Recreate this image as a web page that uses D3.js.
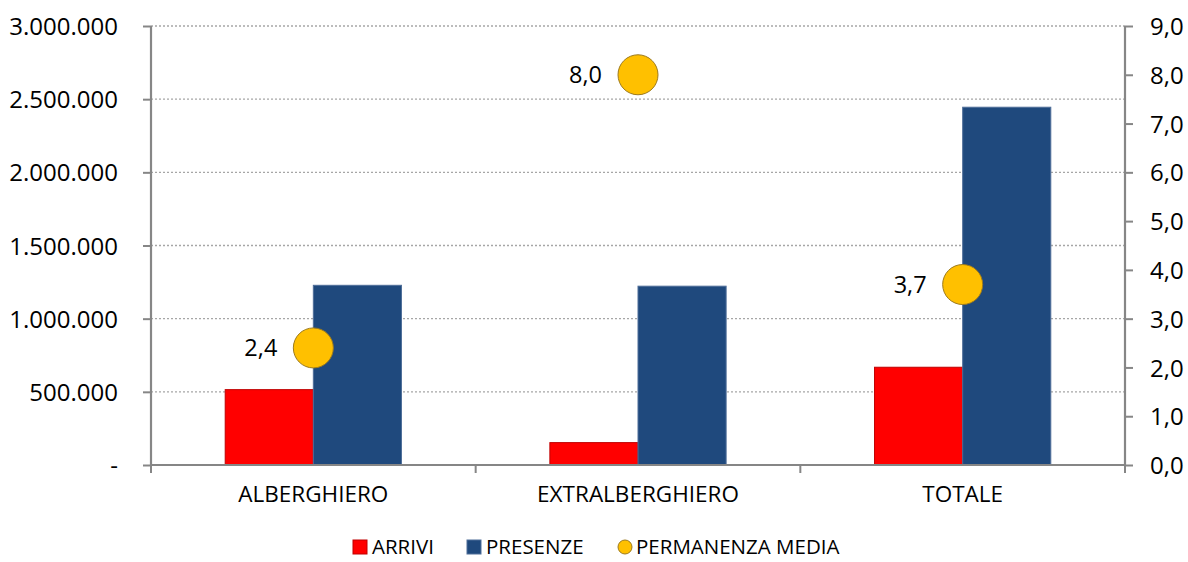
<!DOCTYPE html>
<html>
<head>
<meta charset="utf-8">
<script src="https://cdn.jsdelivr.net/npm/d3@7"></script>
<style>
  html, body { margin: 0; padding: 0; background: #fff; }
  svg text { font-family: "Open Sans", "DejaVu Sans", sans-serif; fill: #000; }
</style>
</head>
<body>
<svg id="chart" width="1188" height="562"></svg>
<script>
const categories = ["ALBERGHIERO", "EXTRALBERGHIERO", "TOTALE"];
const arrivi = [515000, 153000, 668000];
const presenze = [1228000, 1222000, 2445000];
const permanenza = [2.4, 8.0, 3.7];
const leftTicks = [0, 500000, 1000000, 1500000, 2000000, 2500000, 3000000];
const rightTicks = [0, 1, 2, 3, 4, 5, 6, 7, 8, 9];
const seriesNames = ["ARRIVI", "PRESENZE", "PERMANENZA MEDIA"];

const svg = d3.select("#chart");
const m = { left: 151, right: 1125, top: 26, bottom: 465 };
const axisColor = "#868686";

const x = d3.scaleBand().domain(categories).range([m.left, m.right]).paddingInner(0).paddingOuter(0);
const xs = d3.scaleBand().domain(["a", "p"]).range([0, x.bandwidth()]).paddingInner(0).paddingOuter(0.842);
const yL = d3.scaleLinear().domain([0, 3000000]).range([m.bottom, m.top]);
const yR = d3.scaleLinear().domain([0, 9]).range([m.bottom, m.top]);

const fmtL = v => v === 0 ? "-" : d3.format(",")(v).replace(/,/g, ".");
const fmtR = v => d3.format(".1f")(v).replace(".", ",");

// gridlines
svg.append("g").selectAll("line").data(leftTicks.filter(d => d > 0)).join("line")
  .attr("x1", m.left).attr("x2", m.right)
  .attr("y1", d => yL(d)).attr("y2", d => yL(d))
  .attr("stroke", "#a6a6a6").attr("stroke-width", 1.3).attr("stroke-dasharray", "2,2");

// bars
const g = svg.append("g");
categories.forEach((c, i) => {
  g.append("rect")
    .attr("x", x(c) + xs("a")).attr("width", xs.bandwidth())
    .attr("y", yL(arrivi[i])).attr("height", yL(0) - yL(arrivi[i]))
    .attr("fill", "#FF0000").attr("stroke", "#C00000").attr("stroke-width", 1);
  g.append("rect")
    .attr("x", x(c) + xs("p")).attr("width", xs.bandwidth())
    .attr("y", yL(presenze[i])).attr("height", yL(0) - yL(presenze[i]))
    .attr("fill", "#1F497D").attr("stroke", "#4F6E99").attr("stroke-width", 1);
});

// axes
const leftAxis = d3.axisLeft(yL).tickValues(leftTicks).tickFormat(fmtL).tickSize(8).tickPadding(25);
const gl = svg.append("g").attr("transform", `translate(${m.left},0)`).call(leftAxis);
const rightAxis = d3.axisRight(yR).tickValues(rightTicks).tickFormat(fmtR).tickSize(8).tickPadding(17);
const gr = svg.append("g").attr("transform", `translate(${m.right},0)`).call(rightAxis);
const bottomAxis = d3.axisBottom(x).tickSize(0).tickPadding(21);
const gb = svg.append("g").attr("transform", `translate(0,${m.bottom})`).call(bottomAxis);
// category boundary ticks
svg.append("g").selectAll("line").data([0, 1, 2, 3]).join("line")
  .attr("x1", i => m.left + i * x.step()).attr("x2", i => m.left + i * x.step())
  .attr("y1", m.bottom).attr("y2", m.bottom + 8)
  .attr("stroke", axisColor).attr("stroke-width", 2);

[gl, gr, gb].forEach(a => {
  a.select(".domain").attr("stroke", axisColor).attr("stroke-width", 2.2);
  a.selectAll(".tick line").attr("stroke", axisColor).attr("stroke-width", 2);
  a.selectAll(".tick text").attr("font-size", 24).attr("font-family", "'Open Sans', sans-serif").attr("fill", "#000");
});
gl.select(".domain").attr("d", `M0,${m.top}V${m.bottom}`);
gr.select(".domain").attr("d", `M0,${m.top}V${m.bottom}`);
gl.selectAll(".tick text").attr("dy", "0.36em");
gr.selectAll(".tick text").attr("dy", "0.36em");
gb.select(".domain").attr("d", `M${m.left},0H${m.right}`);
gb.selectAll(".tick text").attr("font-size", 22.5).attr("dy", "0.71em");

// markers
categories.forEach((c, i) => {
  const cx = x(c) + x.bandwidth() / 2, cy = yR(permanenza[i]);
  svg.append("circle").attr("cx", cx).attr("cy", cy).attr("r", 20)
    .attr("fill", "#FFC000").attr("stroke", "#9C7A1E").attr("stroke-width", 1);
  svg.append("text").attr("x", cx - 36).attr("y", cy).attr("dy", "0.36em")
    .attr("text-anchor", "end").attr("font-size", 23.5).text(fmtR(permanenza[i]));
});

// legend
const leg = svg.append("g").attr("font-size", 20.5);
const ly = 547;
leg.append("rect").attr("x", 353).attr("y", ly - 7).attr("width", 14).attr("height", 14)
  .attr("fill", "#FF0000").attr("stroke", "#C00000");
leg.append("text").attr("x", 372).attr("y", ly).attr("dy", "0.36em").text(seriesNames[0]);
leg.append("rect").attr("x", 467).attr("y", ly - 7).attr("width", 14).attr("height", 14)
  .attr("fill", "#1F497D").attr("stroke", "#4F6E99");
leg.append("text").attr("x", 486).attr("y", ly).attr("dy", "0.36em").text(seriesNames[1]);
leg.append("circle").attr("cx", 625).attr("cy", ly).attr("r", 7)
  .attr("fill", "#FFC000").attr("stroke", "#9C7A1E");
leg.append("text").attr("x", 636).attr("y", ly).attr("dy", "0.36em").text(seriesNames[2]);
</script>
</body>
</html>
